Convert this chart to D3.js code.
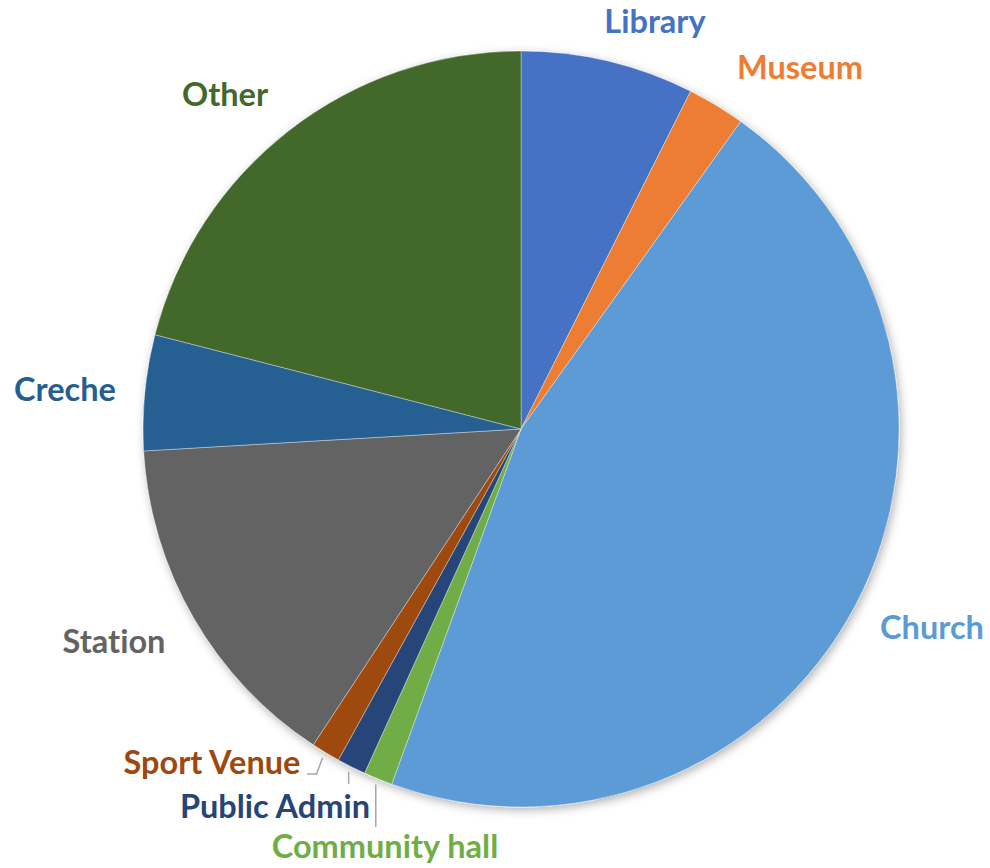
<!DOCTYPE html>
<html>
<head>
<meta charset="utf-8">
<script src="https://cdn.jsdelivr.net/npm/d3@7"></script>
<style>
  html, body { margin: 0; padding: 0; background: #fff; }
  svg { display: block; }
  .lbl { font-family: Lato, "Open Sans", sans-serif; font-weight: 700; font-size: 32.5px;
         font-variant-ligatures: none; font-feature-settings: "liga" 0, "dlig" 0; }
</style>
</head>
<body>
<svg id="chart" width="990" height="868"></svg>
<script>
// Building categories and their counts
const categories = ["Library", "Museum", "Church", "Community hall", "Public Admin",
                    "Sport Venue", "Station", "Creche", "Other"];
const counts = [6, 2, 37, 1, 1, 1, 12, 4, 17];
const colors = ["#4472C4", "#ED7D31", "#5B9BD5", "#70AD47", "#264478",
                "#9E480E", "#636363", "#255E91", "#43682B"];

// Label placement (text centre x, baseline y) and leader style where one is drawn
const labelLayout = {
  "Library":        { x: 655, y: 33 },
  "Museum":         { x: 800, y: 79 },
  "Church":         { x: 932, y: 639 },
  "Community hall": { x: 385, y: 858, leader: "vertical", ly: 827 },
  "Public Admin":   { x: 275, y: 818, leader: "vertical", ly: 784 },
  "Sport Venue":    { x: 212, y: 774, leader: "elbow", lx: 307 },
  "Station":        { x: 114, y: 653 },
  "Creche":         { x: 65,  y: 401 },
  "Other":          { x: 225, y: 106 }
};

const cx = 521, cy = 429, R = 378;
const svg = d3.select("#chart");

const defs = svg.append("defs");
const f = defs.append("filter").attr("id", "shadow")
  .attr("x", "-10%").attr("y", "-10%").attr("width", "120%").attr("height", "120%");
f.append("feDropShadow").attr("dx", 2).attr("dy", 3)
  .attr("stdDeviation", 5).attr("flood-color", "#000").attr("flood-opacity", 0.3);

const data = categories.map((c, i) => ({ name: c, value: counts[i], color: colors[i] }));
const pie = d3.pie().value(d => d.value).sort(null);
const arcs = pie(data);
const arc = d3.arc().innerRadius(0).outerRadius(R);

const g = svg.append("g").attr("transform", `translate(${cx},${cy})`);

g.append("g").attr("filter", "url(#shadow)")
  .selectAll("path").data(arcs).join("path")
  .attr("d", arc)
  .attr("fill", d => d.data.color)
  .attr("stroke", "#ffffff")
  .attr("stroke-width", 0.6)
  .attr("stroke-opacity", 0.6);

// Leader lines for the thin slices at the bottom
const edgePoint = (d, r) => {
  const a = (d.startAngle + d.endAngle) / 2;
  return [r * Math.sin(a), -r * Math.cos(a)];
};
arcs.forEach(d => {
  const L = labelLayout[d.data.name];
  if (!L.leader) return;
  const [ex, ey] = edgePoint(d, R + 6);
  let pts;
  if (L.leader === "vertical") {
    pts = [[ex, ey], [ex, L.ly - cy]];
  } else {
    const bx = ex - 6, by = L.y - cy;
    pts = [[ex, ey], [bx, by], [L.lx - cx, by]];
  }
  g.append("path")
    .attr("d", d3.line()(pts))
    .attr("fill", "none")
    .attr("stroke", "#A6A6A6")
    .attr("stroke-width", 1.5);
});

svg.append("g").selectAll("text").data(arcs).join("text")
  .attr("class", "lbl")
  .attr("x", d => labelLayout[d.data.name].x)
  .attr("y", d => labelLayout[d.data.name].y)
  .attr("text-anchor", "middle")
  .attr("fill", d => d.data.color)
  .text(d => d.data.name);
</script>
</body>
</html>
